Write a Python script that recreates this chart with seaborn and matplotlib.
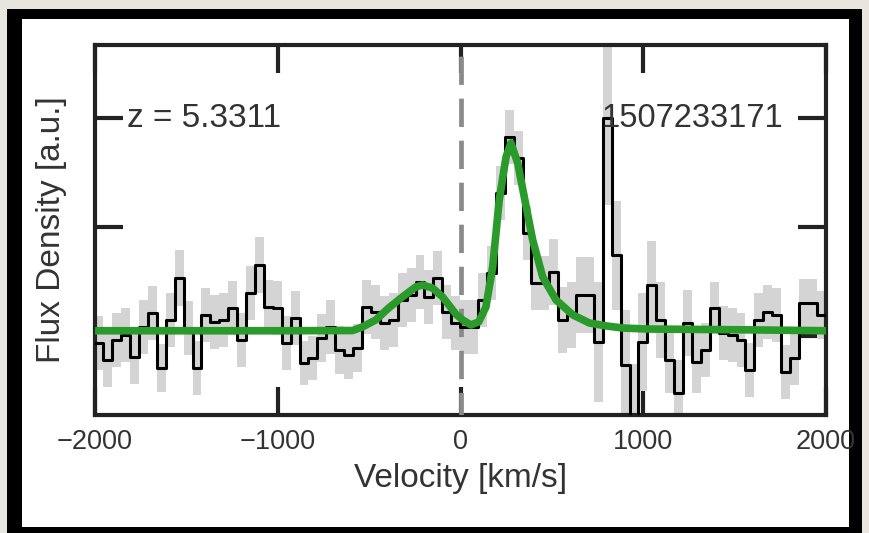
import numpy as np
import pandas as pd
import matplotlib
matplotlib.use("Agg")
import matplotlib.pyplot as plt
from matplotlib.patches import Rectangle
import seaborn as sns

# spectrum channels (km/s)
v_start = -2003.0
chan_width = 48.8

# flux density per channel [a.u.]
flux = [-0.064, -0.220, -0.037, 0.009, -0.193, 0.083, 0.211, -0.294, 0.147, 0.532,
        0.073, -0.294, 0.193, 0.128, 0.147, 0.257, -0.037, 0.394, 0.651, 0.266,
        0.257, -0.064, 0.165, -0.248, -0.202, -0.018, 0.083, -0.128, -0.174, -0.110,
        0.266, 0.220, 0.119, 0.147, 0.330, 0.376, 0.495, 0.358, 0.532, 0.220,
        0.119, 0.083, 0.083, 0.330, 0.578, 1.312, 1.826, 1.633, 0.945, 0.486,
        0.486, 0.587, 0.147, 0.193, 0.376, 0.376, -0.055, 2.000, 0.743, -0.266,
        -0.954, -0.055, 0.468, 0.147, -0.220, -0.523, 0.119, -0.239, -0.128, 0.257,
        0.028, 0.009, -0.037, -0.312, 0.147, 0.220, 0.193, -0.330, -0.202, 0.303,
        0.303, 0.193, 0.193]

flux_err = [0.25, 0.25, 0.25, 0.25, 0.25, 0.25, 0.25, 0.22, 0.25, 0.26,
            0.25, 0.25, 0.25, 0.25, 0.25, 0.25, 0.25, 0.25, 0.26, 0.25,
            0.25, 0.25, 0.25, 0.2, 0.2, 0.22, 0.25, 0.22, 0.22, 0.22,
            0.25, 0.25, 0.25, 0.25, 0.25, 0.25, 0.25, 0.25, 0.25, 0.25,
            0.25, 0.25, 0.25, 0.25, 0.25, 0.25, 0.25, 0.25, 0.25, 0.25,
            0.25, 0.3, 0.3, 0.3, 0.35, 0.35, 0.55, 0.8, 0.5, 0.5,
            0.7, 0.45, 0.4, 0.35, 0.3, 0.3, 0.3, 0.28, 0.25, 0.24,
            0.25, 0.25, 0.25, 0.25, 0.25, 0.25, 0.25, 0.25, 0.25, 0.22,
            0.22, 0.22, 0.22]

# fitted line model
model_v = [-2000, -1000, -590, -537, -464, -393, -318, -245, -208, -153,
           -98, -43, -25, 12, 57, 100, 139, 176, 212, 249,
           276, 313, 349, 395, 450, 523, 615, 706, 798, 889,
           1017, 1319, 1648, 2010]
model_flux = [0.048, 0.048, 0.050, 0.083, 0.147, 0.257, 0.358, 0.450, 0.468, 0.440,
              0.358, 0.239, 0.200, 0.147, 0.101, 0.130, 0.266, 0.633, 1.248, 1.642,
              1.771, 1.587, 1.275, 0.881, 0.541, 0.330, 0.193, 0.119, 0.092, 0.073,
              0.064, 0.060, 0.055, 0.048]

xticks = [-2000, -1000, 0, 1000, 2000]
yticks = [0, 1, 2]
redshift_label = "z = 5.3311"
source_id = "1507233171"

edges = v_start + chan_width * np.arange(len(flux) + 1)
df = pd.DataFrame({"v": edges, "flux": flux + [flux[-1]]})
lo = np.array(flux + [flux[-1]]) - np.array(flux_err + [flux_err[-1]])
hi = np.array(flux + [flux[-1]]) + np.array(flux_err + [flux_err[-1]])
model = pd.DataFrame({"v": model_v, "flux": model_flux})

sns.set_style("ticks")
plt.rcParams["font.family"] = ["Liberation Sans", "DejaVu Sans"]
text_col = "#333333"

fig = plt.figure(figsize=(8.7, 5.33), dpi=100)
fig.patch.set_facecolor("#e8e4de")
# black photo frame around the white panel
fig.patches.append(Rectangle((7 / 870, 0), 855 / 870, 524 / 533, transform=fig.transFigure,
                             facecolor="black", edgecolor="none", zorder=-10))
fig.patches.append(Rectangle((22 / 870, 6 / 533), 827 / 870, 508 / 533, transform=fig.transFigure,
                             facecolor="white", edgecolor="none", zorder=-9))

ax = fig.add_axes([95 / 870, 118 / 533, 731 / 870, 370 / 533])
ax.set_facecolor("white")

ax.fill_between(edges, lo, hi, step="post", color="#d4d4d4", linewidth=0, zorder=1)
ax.axvline(0, color="#8a8a8a", lw=3.4, ls=(1.2, (6.0, 2.9)), zorder=2.6)
sns.lineplot(data=df, x="v", y="flux", drawstyle="steps-post", color="black", lw=2.2,
             estimator=None, sort=False, ax=ax, zorder=2.7)
sns.lineplot(data=model, x="v", y="flux", color="#2a9a2a", lw=5.5,
             estimator=None, sort=False, ax=ax, zorder=2.8)

ax.set_xlim(-2000, 2000)
ax.set_ylim(-0.725, 2.670)
ax.set_xticks(xticks)
ax.set_yticks(yticks)
ax.set_yticklabels([])
ax.tick_params(direction="in", length=20, width=3, color="#222222", top=True, right=True,
               labelsize=19.5, labelcolor=text_col, pad=10)
for s in ax.spines.values():
    s.set_linewidth(3)
    s.set_color("#222222")

ax.set_xlabel("Velocity [km/s]", fontsize=24, color=text_col, labelpad=6)
ax.set_ylabel("Flux Density [a.u.]", fontsize=24, color=text_col, labelpad=10)

ax.text(0.044, 2.0, redshift_label, transform=ax.get_yaxis_transform(), ha="left", va="center",
        fontsize=24, color=text_col, zorder=5)
ax.text(0.941, 2.0, source_id, transform=ax.get_yaxis_transform(), ha="right", va="center",
        fontsize=23.5, color=text_col, zorder=5)

fig.savefig("out.png", dpi=100, facecolor=fig.get_facecolor())
